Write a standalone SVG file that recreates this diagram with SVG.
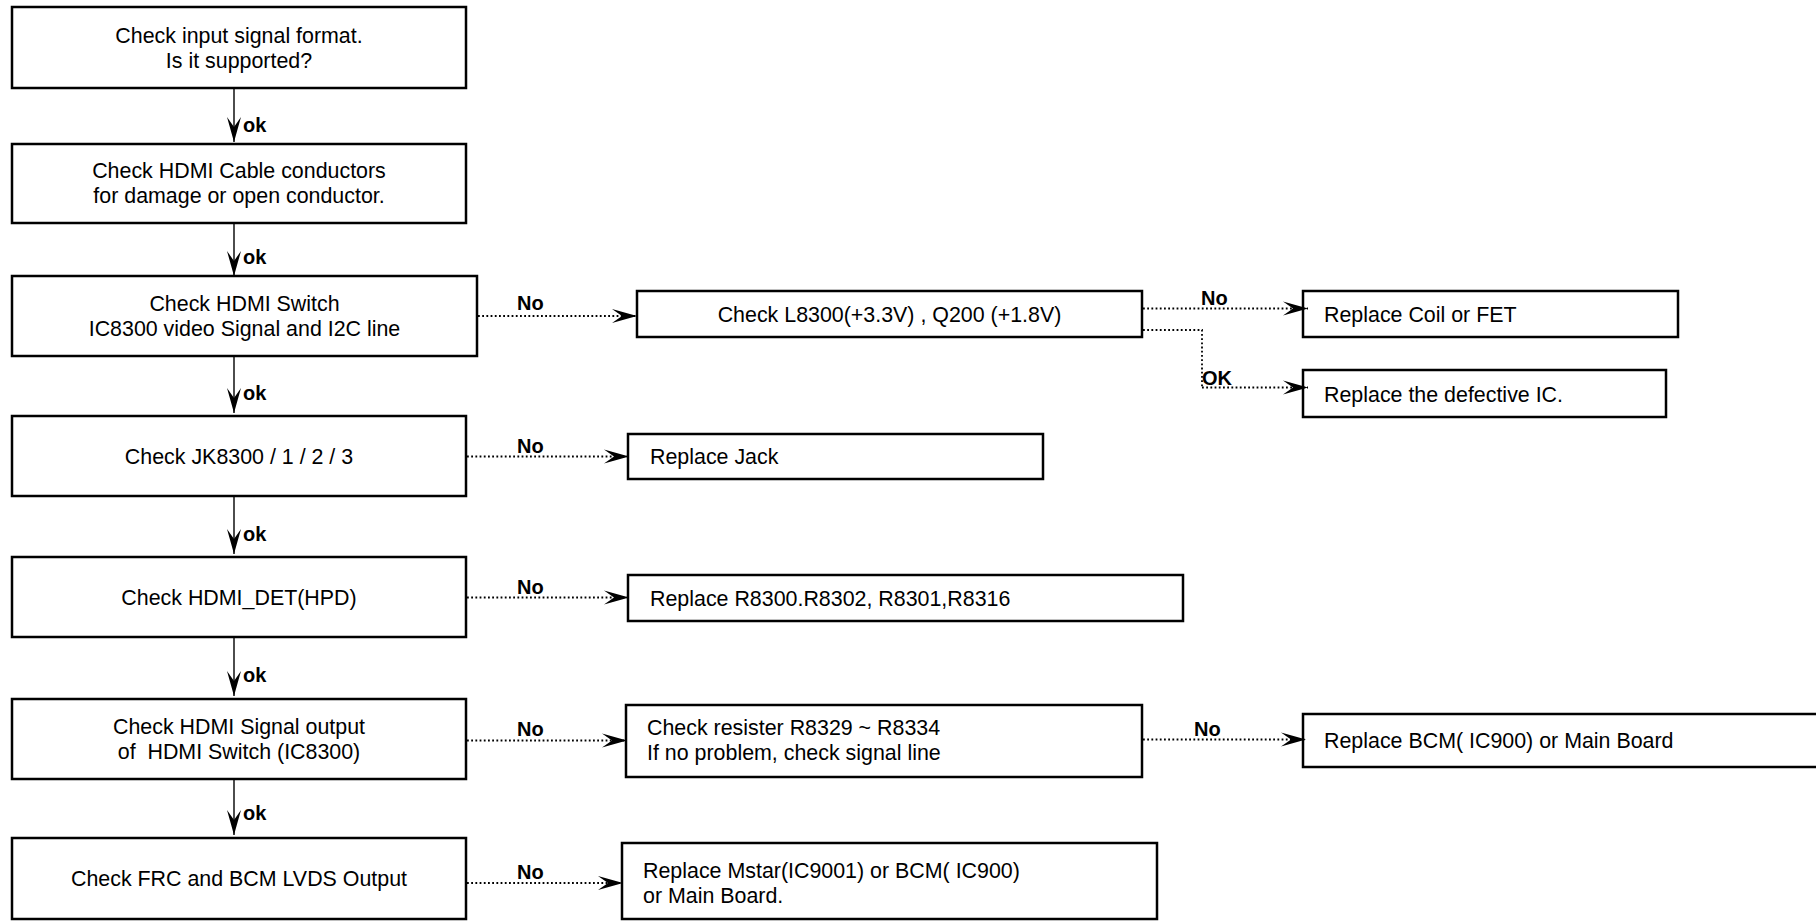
<svg xmlns="http://www.w3.org/2000/svg" width="1816" height="921" viewBox="0 0 1816 921">
  <style>
    .box { fill: #fff; stroke: #000; stroke-width: 2.5; }
    .t { font-family: "Liberation Sans", Arial, sans-serif; font-size: 21.4px; fill: #000; }
    .c { text-anchor: middle; }
    .lbl { font-family: "Liberation Sans", Arial, sans-serif; font-size: 20px; font-weight: bold; fill: #000; }
    .solid { fill: none; stroke: #000; stroke-width: 1.4; marker-end: url(#head); }
    .dot { fill: none; stroke: #000; stroke-width: 1.8; stroke-dasharray: 1.8 2.4; }
    .dota { fill: none; stroke: #000; stroke-width: 1.8; stroke-dasharray: 1.8 2.4; marker-end: url(#head); }
  </style>
  <defs>
    <marker id="head" markerUnits="userSpaceOnUse" viewBox="-26 -8 27 16" refX="0" refY="0" markerWidth="27" markerHeight="16" orient="auto">
      <path d="M0,0 L-25,-7 L-15,0 L-25,7 Z" fill="#000" stroke="none"/>
    </marker>
  </defs>

  <rect width="1816" height="921" fill="#fff"/>

  <!-- main column -->
  <g id="n1">
    <rect class="box" x="12" y="7" width="454" height="81"/>
    <text class="t c" x="239" y="43">Check input signal format.</text>
    <text class="t c" x="239" y="68">Is it supported?</text>
  </g>
  <g id="n2">
    <rect class="box" x="12" y="144" width="454" height="79"/>
    <text class="t c" x="239" y="178">Check HDMI Cable conductors</text>
    <text class="t c" x="239" y="203">for damage or open conductor.</text>
  </g>
  <g id="n3">
    <rect class="box" x="12" y="276" width="465" height="80"/>
    <text class="t c" x="244.5" y="310.5">Check HDMI Switch</text>
    <text class="t c" x="244.5" y="335.5">IC8300 video Signal and I2C line</text>
  </g>
  <g id="n4">
    <rect class="box" x="12" y="416" width="454" height="80"/>
    <text class="t c" x="239" y="463.5">Check JK8300 / 1 / 2 / 3</text>
  </g>
  <g id="n5">
    <rect class="box" x="12" y="557" width="454" height="80"/>
    <text class="t c" x="239" y="604.5">Check HDMI_DET(HPD)</text>
  </g>
  <g id="n6">
    <rect class="box" x="12" y="699" width="454" height="80"/>
    <text class="t c" x="239" y="733.5">Check HDMI Signal output</text>
    <text class="t c" x="239" y="759" xml:space="preserve">of  HDMI Switch (IC8300)</text>
  </g>
  <g id="n7">
    <rect class="box" x="12" y="838" width="454" height="81"/>
    <text class="t c" x="239" y="886">Check FRC and BCM LVDS Output</text>
  </g>

  <!-- side branches -->
  <g id="n8">
    <rect class="box" x="637" y="291" width="505" height="46"/>
    <text class="t c" x="889.5" y="321.5">Check L8300(+3.3V) , Q200 (+1.8V)</text>
  </g>
  <g id="n9">
    <rect class="box" x="1303" y="291" width="375" height="46"/>
    <text class="t" x="1324" y="321.5">Replace Coil or FET</text>
  </g>
  <g id="n10">
    <rect class="box" x="1303" y="370" width="363" height="47"/>
    <text class="t" x="1324" y="401.5">Replace the defective IC.</text>
  </g>
  <g id="n11">
    <rect class="box" x="628" y="434" width="415" height="45"/>
    <text class="t" x="650" y="463.5">Replace Jack</text>
  </g>
  <g id="n12">
    <rect class="box" x="628" y="575" width="555" height="46"/>
    <text class="t" x="650" y="605.5">Replace R8300.R8302, R8301,R8316</text>
  </g>
  <g id="n13">
    <rect class="box" x="626" y="705" width="516" height="72"/>
    <text class="t" x="647" y="735">Check resister R8329 ~ R8334</text>
    <text class="t" x="647" y="760">If no problem, check signal line</text>
  </g>
  <g id="n14">
    <rect class="box" x="1303" y="714" width="530" height="53"/>
    <text class="t" x="1324" y="748">Replace BCM( IC900) or Main Board</text>
  </g>
  <g id="n15">
    <rect class="box" x="622" y="843" width="535" height="76"/>
    <text class="t" x="643" y="878">Replace Mstar(IC9001) or BCM( IC900)</text>
    <text class="t" x="643" y="903">or Main Board.</text>
  </g>

  <!-- connectors -->
  <g id="connectors">
    <path class="solid" d="M234,88 V142"/>
    <path class="solid" d="M234,223 V276"/>
    <path class="solid" d="M234,356 V413"/>
    <path class="solid" d="M234,496 V554"/>
    <path class="solid" d="M234,637 V696"/>
    <path class="solid" d="M234,779 V835"/>
    <text class="lbl" x="243" y="132">ok</text>
    <text class="lbl" x="243" y="264">ok</text>
    <text class="lbl" x="243" y="400">ok</text>
    <text class="lbl" x="243" y="541">ok</text>
    <text class="lbl" x="243" y="682">ok</text>
    <text class="lbl" x="243" y="820">ok</text>

    <path class="dota" d="M478,316 H637"/>
    <path class="dota" d="M467,456.5 H629"/>
    <path class="dota" d="M467,597.5 H629"/>
    <path class="dota" d="M467,740.5 H627"/>
    <path class="dota" d="M467,883 H623"/>
    <text class="lbl" x="517" y="310">No</text>
    <text class="lbl" x="517" y="453">No</text>
    <text class="lbl" x="517" y="594">No</text>
    <text class="lbl" x="517" y="736">No</text>
    <text class="lbl" x="517" y="879">No</text>

    <path class="dota" d="M1143,308.5 H1308"/>
    <path class="dot" d="M1143,330 H1202 V387.5"/>
    <path class="dota" d="M1202,387.5 H1308"/>
    <text class="lbl" x="1201" y="305">No</text>
    <text class="lbl" x="1202" y="385">OK</text>

    <path class="dota" d="M1143,739.5 H1306"/>
    <text class="lbl" x="1194" y="736">No</text>
  </g>
</svg>
